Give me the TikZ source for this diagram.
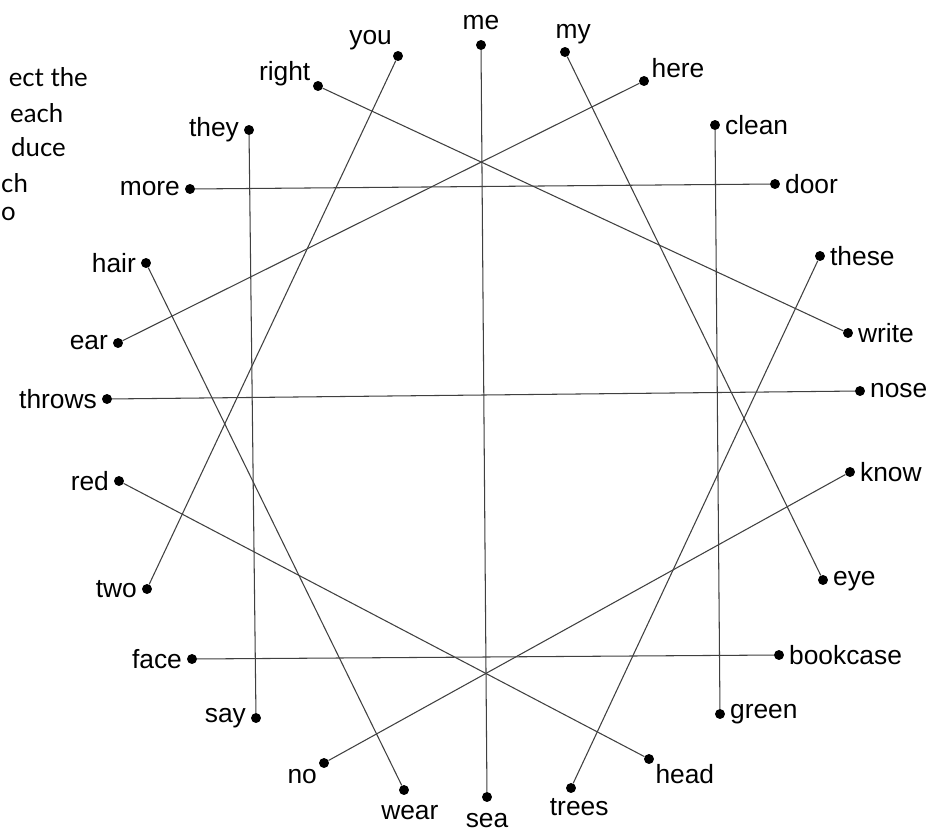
\documentclass[tikz,border=0pt]{standalone}
\usepackage{fontspec}
\setmainfont{Liberation Sans}
\newfontfamily\notefont{Lato}

\tikzset{
  wdot/.style={circle,fill=black,inner sep=0pt,minimum size=8.5pt},
  wline/.style={black!75,line width=0.9pt},
  every label/.style={font=\fontsize{22.5}{26}\selectfont,inner sep=4pt},
  notetext/.style={font=\notefont\fontsize{22}{26}\selectfont,inner sep=0pt}
}

\begin{document}
\begin{tikzpicture}[x=0.03cm,y=-0.03cm]

  \useasboundingbox[fill=white] (0,0) rectangle (938,834);

  % cut-off instruction text on the left
  \node[notetext,anchor=east] (note1) at (88,77) {ect the};
  \node[notetext,anchor=west] (note2) at (10,113) {each};
  \node[notetext,anchor=west] (note3) at (11,147) {duce};
  \node[notetext,anchor=west] (note4) at (1,183) {ch};
  \node[notetext,anchor=west] (note5) at (1,214) {o};

  % word dots round the circle
  \node[wdot,label={[label distance=4pt]above:me}] (me) at (481,45) {};
  \node[wdot,label={[label distance=-3pt]135:you}] (you) at (398,56) {};
  \node[wdot,label={[xshift=7pt,label distance=-2pt]above:my}] (my) at (565,52) {};
  \node[wdot,label={[label distance=-2pt,yshift=-5pt]165:right}] (right) at (318,86) {};
  \node[wdot,label={[label distance=-2pt,yshift=-2pt]18:here}] (here) at (644,81) {};
  \node[wdot,label={left:they}] (they) at (249,130) {};
  \node[wdot,label={right:clean}] (clean) at (715,125) {};
  \node[wdot,label={left:more}] (more) at (190,189) {};
  \node[wdot,label={right:door}] (door) at (775,184) {};
  \node[wdot,label={left:hair}] (hair) at (146,263) {};
  \node[wdot,label={right:these}] (these) at (820,256) {};
  \node[wdot,label={left:ear}] (ear) at (118,343) {};
  \node[wdot,label={right:write}] (write) at (848,333) {};
  \node[wdot,label={left:throws}] (throws) at (107,399) {};
  \node[wdot,label={right:nose}] (nose) at (860,391) {};
  \node[wdot,label={left:red}] (red) at (119,481) {};
  \node[wdot,label={right:know}] (know) at (850,472) {};
  \node[wdot,label={left:two}] (two) at (147,589) {};
  \node[wdot,label={[yshift=-1pt]right:eye}] (eye) at (823,580) {};
  \node[wdot,label={left:face}] (face) at (192,659) {};
  \node[wdot,label={right:bookcase}] (bookcase) at (779,655) {};
  \node[wdot,label={left:say}] (say) at (256,718) {};
  \node[wdot,label={right:green}] (green) at (720,714) {};
  \node[wdot,label={[label distance=-2pt]-140:no}] (no) at (324,763) {};
  \node[wdot,label={[label distance=-3pt]-22:head}] (head) at (649,759) {};
  \node[wdot,label={[xshift=5pt,label distance=4pt]below:wear}] (wear) at (404,790) {};
  \node[wdot,label={[label distance=5pt]below:sea}] (sea) at (487,797) {};
  \node[wdot,label={[xshift=7pt,label distance=0pt]below:trees}] (trees) at (571,788) {};

  % the lines joining each pair
  \draw[wline] (me) -- (sea);
  \draw[wline] (you) -- (two);
  \draw[wline] (my) -- (eye);
  \draw[wline] (right) -- (write);
  \draw[wline] (here) -- (ear);
  \draw[wline] (they) -- (say);
  \draw[wline] (clean) -- (green);
  \draw[wline] (more) -- (door);
  \draw[wline] (hair) -- (wear);
  \draw[wline] (these) -- (trees);
  \draw[wline] (throws) -- (nose);
  \draw[wline] (red) -- (head);
  \draw[wline] (know) -- (no);
  \draw[wline] (face) -- (bookcase);
\end{tikzpicture}
\end{document}
